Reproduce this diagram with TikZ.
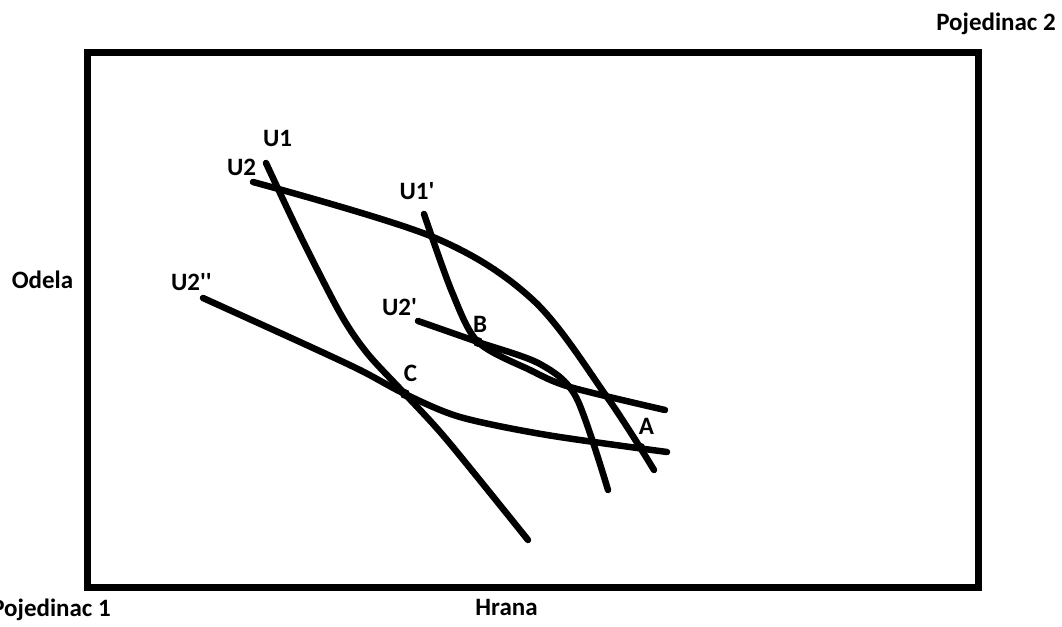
\documentclass[tikz,border=0pt]{standalone}
\usepackage{fontspec}
\setmainfont{Carlito}

\begin{document}
\begin{tikzpicture}[x=1pt, y=-1pt,
    curve/.style={line width=6.5pt, line cap=round, line join=round},
    lbl/.style={font=\fontsize{25}{28}\selectfont\bfseries, inner sep=0pt, anchor=base},
    axis/.style={font=\fontsize{25}{28}\selectfont\bfseries, inner sep=0pt, anchor=base}]
    \useasboundingbox (0,0) rectangle (1062,626);
    % box
    \draw[line width=7pt] (87.5,53) rectangle (978.5,587.5);
    \node[axis] (p2) at (996,31) {Pojedinac 2};
    \node[axis] (p1) at (51,616) {Pojedinac 1};
    \node[axis] (odela) at (42.5,288) {Odela};
    \node[axis] (hrana) at (506.5,615) {Hrana};
    % indifference curves
    \draw[curve] plot[smooth, tension=0.5] coordinates {(266,163) (300,235) (340,313) (367,353) (405,394) (447,440) (528,540)};
    \draw[curve] plot[smooth, tension=0.55] coordinates {(253,182) (433,237) (533,300) (607,397) (654,470)};
    \draw[curve] plot[smooth, tension=0.5] coordinates {(424,214) (452,292) (478,342) (530,370) (570,387) (665,410)};
    \draw[curve] plot[smooth, tension=0.5] coordinates {(418,321) (478,342) (540,364) (576,397) (608,490)};
    \draw[curve] plot[smooth, tension=0.5] coordinates {(203,298) (300,342) (360,370) (405,394) (460,417) (547,435) (667,452)};
    % points
    \fill (478,342) circle (5);
    \fill (405,394) circle (5);
    \fill (641,447) circle (4);
    \node[lbl] (u1) at (277.5,146) {U1};
    \node[lbl] (u2) at (241.5,175) {U2};
    \node[lbl] (u1p) at (417,199) {U1\textquotesingle};
    \node[lbl] (u2pp) at (191.5,290) {U2\textquotesingle\textquotesingle};
    \node[lbl] (u2p) at (399.5,315) {U2\textquotesingle};
    \node[lbl] (b) at (480,332) {B};
    \node[lbl] (c) at (410.5,381) {C};
    \node[lbl] (a) at (646.5,434) {A};
\end{tikzpicture}
\end{document}
